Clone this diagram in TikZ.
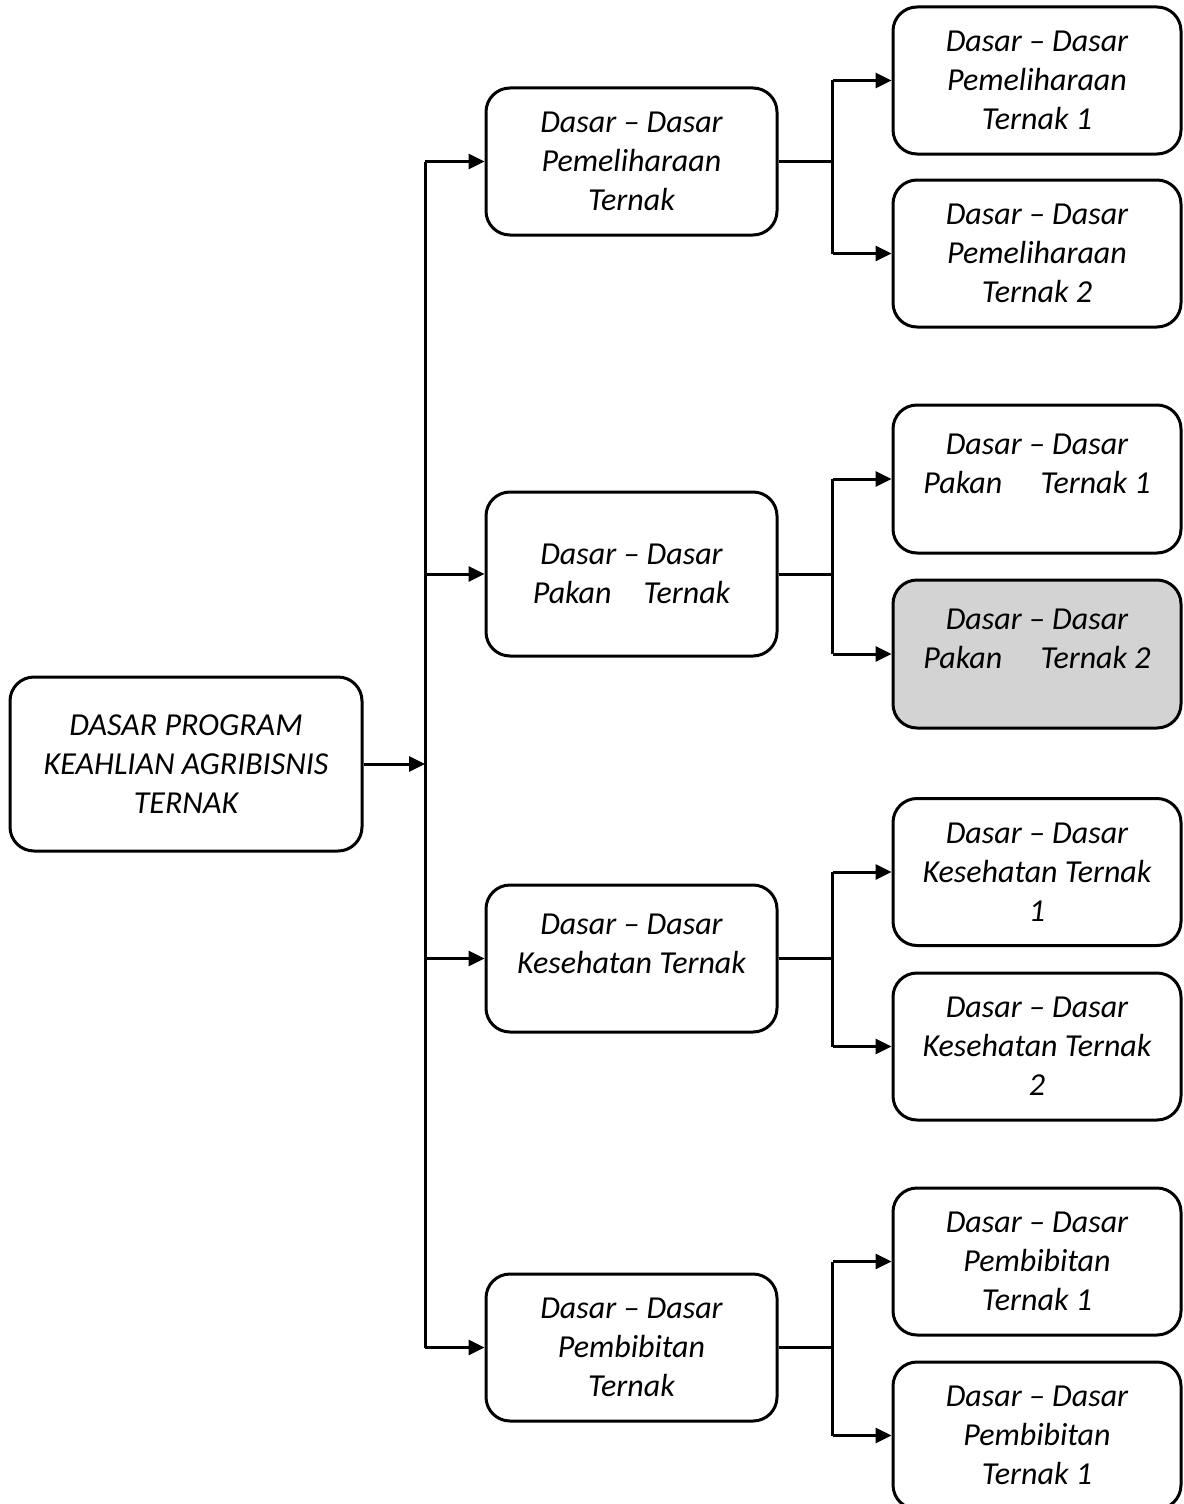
\documentclass[tikz,border=0pt]{standalone}
\usepackage{fontspec}
\setmainfont{Carlito}
\usetikzlibrary{arrows.meta}

\definecolor{boxgray}{RGB}{211,211,211}

\tikzset{
	box/.style = {draw, rounded corners = 12pt, line width = 1.5pt, align = center,
		inner sep = 2pt, font = \fontsize{16}{19.5}\selectfont\itshape},
	rootbox/.style = {box, minimum width = 176pt, minimum height = 87pt},
	lvlone/.style = {box, minimum width = 145.5pt, minimum height = 73.5pt},
	lvltwo/.style = {box, minimum width = 144pt, minimum height = 73.5pt},
	lift/.style = {text depth = 15pt},
	link/.style = {line width = 1.5pt}
}

\begin{document}
\begin{tikzpicture}[x = 0.5pt, y = -0.5pt, > = {Triangle[length = 8pt, width = 7.5pt]}]

	\useasboundingbox (0, 0) rectangle (1183, 1504);

	% Root
	
	\node [rootbox] (root) at (186, 764) {DASAR PROGRAM\\KEAHLIAN AGRIBISNIS\\TERNAK};

	% Level one
	
	\node [lvlone] (a) at (631.5, 161.5) {Dasar -- Dasar\\Pemeliharaan\\Ternak};
	\node [lvlone, minimum height = 82pt] (b) at (631.5, 574) {Dasar -- Dasar\\Pakan\hspace{1em}Ternak};
	\node [lvlone, lift] (c) at (631.5, 958.5) {Dasar -- Dasar\\Kesehatan Ternak};
	\node [lvlone] (d) at (631.5, 1347.5) {Dasar -- Dasar\\Pembibitan\\Ternak};

	% Level two
	
	\node [lvltwo] (a1) at (1037, 80.5) {Dasar -- Dasar\\Pemeliharaan\\Ternak 1};
	\node [lvltwo] (a2) at (1037, 253.5) {Dasar -- Dasar\\Pemeliharaan\\Ternak 2};
	\node [lvltwo, lift, minimum height = 74pt] (b1) at (1037, 479) {Dasar -- Dasar\\Pakan\hspace{1.2em}Ternak 1};
	\node [lvltwo, lift, minimum height = 74pt, fill = boxgray] (b2) at (1037, 654) {Dasar -- Dasar\\Pakan\hspace{1.2em}Ternak 2};
	\node [lvltwo] (c1) at (1037, 872) {Dasar -- Dasar\\Kesehatan Ternak\\1};
	\node [lvltwo] (c2) at (1037, 1046.5) {Dasar -- Dasar\\Kesehatan Ternak\\2};
	\node [lvltwo] (d1) at (1037, 1261.5) {Dasar -- Dasar\\Pembibitan\\Ternak 1};
	\node [lvltwo] (d2) at (1037, 1435.5) {Dasar -- Dasar\\Pembibitan\\Ternak 1};

	% Trunk
	
	\coordinate (trunk) at (425, 764);
	\draw [link, ->] (root.east) -- (trunk);
	\draw [link] (trunk |- a.west) -- (trunk |- d.west);
	\foreach \p in {a, b, c, d}
		\draw [link, ->] (trunk |- \p.west) -- (\p.west);

	% Branches
	
	\foreach \p in {a, b, c, d} {
		\draw [link] (\p.east) -- ++(54, 0) coordinate (\p j);
		\draw [link] (\p j |- \p1.west) -- (\p j |- \p2.west);
		\draw [link, ->] (\p j |- \p1.west) -- (\p1.west);
		\draw [link, ->] (\p j |- \p2.west) -- (\p2.west);
	}

\end{tikzpicture}
\end{document}
